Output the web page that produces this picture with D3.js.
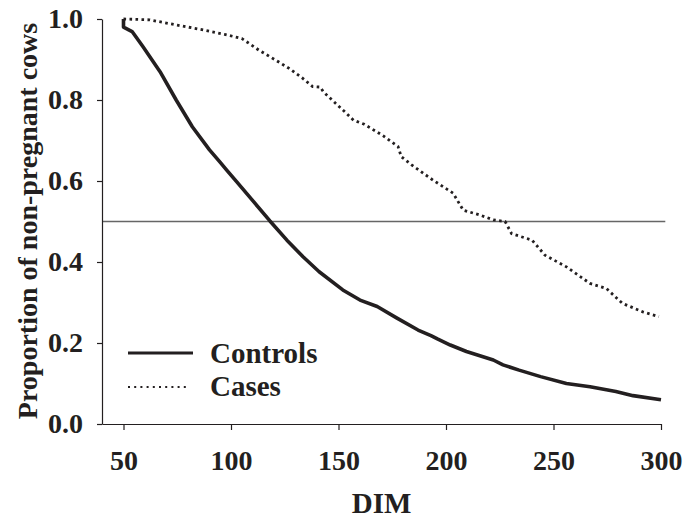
<!DOCTYPE html>
<head>
	<meta charset="utf-8">
	<title>Proportion of non-pregnant cows</title>
	<script src="https://cdn.jsdelivr.net/npm/d3@7"></script>
	<style>
		body { margin: 0; background: white; }
		text { font-family: 'Liberation Serif', 'Times New Roman', serif; font-weight: bold; fill: #231f20; }
		.axis path, .axis line { stroke: #231f20; stroke-width: 1.2px; }
		.axis text { font-size: 28px; }
	</style>
</head>
<body>
	<script>
		var controlsDim = [50, 50, 54, 59, 67, 74.5, 82, 90, 95, 98, 102.5, 111, 118, 126, 133.5, 141, 152, 160, 168, 177,
			187, 193, 196, 202, 209.5, 222, 226.5, 234, 244, 256, 267, 279, 287, 300];
		var controlsProp = [1.0, 0.98, 0.969, 0.932, 0.87, 0.80, 0.734, 0.677, 0.646, 0.627, 0.599, 0.546, 0.502, 0.454, 0.413, 0.376, 0.331, 0.306, 0.29, 0.262,
			0.232, 0.218, 0.21, 0.195, 0.179, 0.158, 0.146, 0.133, 0.117, 0.10, 0.092, 0.08, 0.07, 0.06];
		var casesDim = [50, 62, 75, 88, 97, 105, 113, 122.5, 127, 133, 138, 141.5, 143, 148, 153.7, 157, 162, 170.7, 177.7, 179.2,
			184, 194, 203.3, 208, 215.7, 222, 227.5, 230.5, 240, 246, 256, 267, 274.5, 282, 291.5, 299];
		var casesProp = [1.0, 0.998, 0.985, 0.972, 0.962, 0.952, 0.923, 0.893, 0.878, 0.855, 0.833, 0.832, 0.82, 0.795, 0.767, 0.75, 0.74, 0.712, 0.685, 0.66,
			0.64, 0.602, 0.57, 0.528, 0.516, 0.504, 0.50, 0.47, 0.454, 0.417, 0.388, 0.347, 0.335, 0.298, 0.277, 0.265];
		var xTicks = [50, 100, 150, 200, 250, 300];
		var yTicks = [0, 0.2, 0.4, 0.6, 0.8, 1.0];
		var medianLine = 0.5;
		var seriesNames = ["Controls", "Cases"];

		var width = 685;
		var height = 518;
		var margin = {left: 102, right: 24, top: 19, bottom: 94};

		var svg = d3.select("body")
			.append("svg")
			.attr("width", width)
			.attr("height", height);

		var x = d3.scaleLinear()
			.domain([40, 300])
			.range([margin.left, width - margin.right]);
		var y = d3.scaleLinear()
			.domain([0, 1])
			.range([height - margin.bottom, margin.top]);

		// 0.5 reference line
		svg.append("line")
			.attr("x1", x(40))
			.attr("x2", x(302))
			.attr("y1", y(medianLine))
			.attr("y2", y(medianLine))
			.attr("stroke", "#666")
			.attr("stroke-width", 1.3);

		svg.append("g")
			.attr("class", "axis")
			.attr("transform", "translate(0," + y(0) + ")")
			.call(d3.axisBottom(x).tickValues(xTicks).tickSize(6).tickPadding(20).tickSizeOuter(0));

		svg.append("g")
			.attr("class", "axis")
			.attr("transform", "translate(" + x(40) + ",0)")
			.call(d3.axisLeft(y).tickValues(yTicks).tickFormat(d3.format(".1f")).tickSize(5).tickPadding(14).tickSizeOuter(0));

		var line = d3.line()
			.x(function(d) { return x(d[0]); })
			.y(function(d) { return y(d[1]); });

		var controls = d3.zip(controlsDim, controlsProp);
		var cases = d3.zip(casesDim, casesProp);

		svg.append("path")
			.attr("d", line(cases))
			.attr("fill", "none")
			.attr("stroke", "#231f20")
			.attr("stroke-width", 2.8)
			.attr("stroke-dasharray", "2.6,3.4");

		svg.append("path")
			.attr("d", line(controls))
			.attr("fill", "none")
			.attr("stroke", "#231f20")
			.attr("stroke-width", 3.6)
			.attr("stroke-linejoin", "round");

		// legend
		var legend = svg.append("g");
		legend.append("line")
			.attr("x1", 128).attr("x2", 193)
			.attr("y1", 353).attr("y2", 353)
			.attr("stroke", "#231f20").attr("stroke-width", 3.2);
		legend.append("line")
			.attr("x1", 128).attr("x2", 190)
			.attr("y1", 387).attr("y2", 387)
			.attr("stroke", "#231f20").attr("stroke-width", 2.2)
			.attr("stroke-dasharray", "2,4.2");
		legend.selectAll("text")
			.data(seriesNames)
			.enter().append("text")
				.attr("x", 210)
				.attr("y", function(d, i) { return 363 + i * 33; })
				.style("font-size", "29px")
				.text(function(d) { return d; });

		// axis titles
		svg.append("text")
			.attr("x", (x(40) + x(300)) / 2)
			.attr("y", 513)
			.attr("text-anchor", "middle")
			.style("font-size", "29px")
			.text("DIM");

		svg.append("text")
			.attr("transform", "translate(37," + 221 + ") rotate(-90)")
			.attr("text-anchor", "middle")
			.style("font-size", "28px")
			.text("Proportion of non-pregnant cows");
	</script>
</body>
